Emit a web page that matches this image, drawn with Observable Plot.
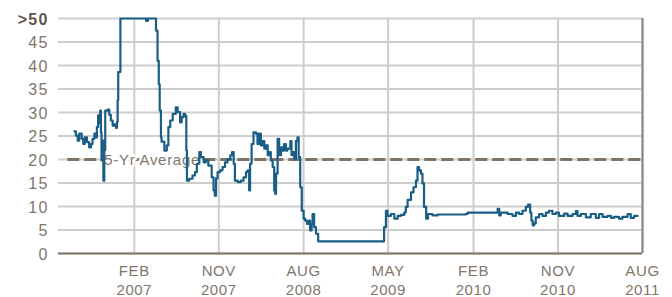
<!DOCTYPE html>
<html>
<head>
<meta charset="utf-8">
<script src="https://cdn.jsdelivr.net/npm/d3@7"></script>
<script src="https://cdn.jsdelivr.net/npm/@observablehq/plot@0.6"></script>
<style>
  html, body { margin: 0; padding: 0; background: #fff; }
  #chart { width: 672px; height: 297px; }
</style>
</head>
<body>
<div id="chart"></div>
<script>
// Series: dates and values (values above 50 shown capped at ">50")
const dates = [
  "2006-07-22","2006-07-27","2006-08-02","2006-08-07","2006-08-15","2006-08-20","2006-08-25","2006-09-01",
  "2006-09-08","2006-09-14","2006-09-19","2006-09-25","2006-09-30","2006-10-03","2006-10-07","2006-10-11",
  "2006-10-14","2006-10-16","2006-10-18","2006-10-22","2006-10-24","2006-10-27","2006-10-30","2006-11-07",
  "2006-11-12","2006-11-17","2006-11-23","2006-11-28","2006-12-04","2006-12-07","2006-12-09","2006-12-11",
  "2006-12-16","2006-12-18","2007-03-11","2007-03-17","2007-04-06","2007-04-12","2007-04-17","2007-04-21",
  "2007-04-24","2007-04-28","2007-04-30","2007-05-09","2007-05-17","2007-05-22","2007-05-28","2007-06-05",
  "2007-06-15","2007-06-21","2007-06-29","2007-07-04","2007-07-10","2007-07-15","2007-07-19","2007-07-21",
  "2007-07-28","2007-08-08","2007-08-16","2007-08-22","2007-08-30","2007-09-04","2007-09-13","2007-09-20",
  "2007-09-28","2007-10-04","2007-10-09","2007-10-15","2007-10-19","2007-10-23","2007-10-28","2007-11-05",
  "2007-11-13","2007-11-21","2007-11-29","2007-12-08","2007-12-14","2007-12-19","2007-12-23","2008-01-01",
  "2008-01-11","2008-01-20","2008-01-28","2008-02-02","2008-02-07","2008-02-10","2008-02-15","2008-02-21",
  "2008-02-29","2008-03-05","2008-03-10","2008-03-16","2008-03-21","2008-03-27","2008-04-01","2008-04-07",
  "2008-04-12","2008-04-17","2008-04-23","2008-04-28","2008-05-01","2008-05-04","2008-05-09","2008-05-14",
  "2008-05-20","2008-05-25","2008-05-30","2008-06-05","2008-06-10","2008-06-19","2008-06-23","2008-06-27",
  "2008-07-02","2008-07-07","2008-07-12","2008-07-16","2008-07-21","2008-07-26","2008-08-01","2008-08-06",
  "2008-08-12","2008-08-19","2008-08-22","2008-08-27","2008-08-30","2008-09-04","2008-09-10","2008-09-17",
  "2009-04-13","2009-04-18","2009-04-24","2009-04-29","2009-05-10","2009-05-21","2009-06-01","2009-06-11",
  "2009-06-22","2009-06-27","2009-07-03","2009-07-14","2009-07-22","2009-07-30","2009-08-04","2009-08-09",
  "2009-08-15","2009-08-20","2009-08-25","2009-09-01","2009-09-07","2009-09-21","2009-10-08","2010-01-07",
  "2010-01-13","2010-04-14","2010-04-20","2010-04-25","2010-04-30","2010-05-22","2010-06-07","2010-06-18",
  "2010-06-28","2010-07-09","2010-07-20","2010-07-27","2010-08-03","2010-08-07","2010-08-11","2010-08-16",
  "2010-08-21","2010-09-01","2010-09-12","2010-09-23","2010-10-03","2010-10-14","2010-10-25","2010-11-04",
  "2010-11-21","2010-12-02","2010-12-18","2010-12-29","2011-01-03","2011-01-14","2011-01-30","2011-02-15",
  "2011-03-03","2011-03-14","2011-03-25","2011-04-10","2011-04-21","2011-05-01","2011-05-17","2011-05-28",
  "2011-06-14","2011-06-24","2011-07-05","2011-07-16"
];
const values = [
  26.0,25.1,24.0,25.5,24.4,23.3,24.7,23.7,
  22.6,23.3,24.4,25.5,24.7,26.9,29.4,27.8,
  30.4,25.7,19.8,24.0,15.5,22.0,30.4,30.6,
  29.5,28.3,27.2,27.5,26.7,28.0,32.6,38.6,
  38.6,50,49.5,50,50,47.4,41.0,36.0,
  30.4,24.7,23.8,21.9,23.0,26.9,28.3,29.7,
  31.1,30.1,27.9,29.0,29.7,29.3,21.9,15.5,
  15.9,16.6,17.3,19.1,21.6,20.5,19.4,19.8,
  18.7,18.7,16.2,13.4,12.3,16.0,17.3,17.7,
  18.4,19.4,20.1,20.9,21.6,19.1,15.5,15.2,
  15.5,16.2,17.3,17.7,13.4,19.1,23.3,25.8,
  25.5,23.3,25.5,23.0,23.9,22.3,23.0,20.9,
  21.6,19.8,18.4,13.4,12.7,17.0,24.4,20.9,
  22.6,21.9,23.3,21.9,22.3,23.9,20.9,21.6,
  20.1,23.9,24.7,20.5,14.1,9.1,7.4,7.0,
  6.3,7.0,4.9,6.3,8.4,5.6,4.2,2.6,
  2.6,5.6,9.1,8.0,8.4,7.4,8.0,8.2,
  8.7,9.9,11.4,13.0,14.1,15.5,18.4,17.7,
  17.0,14.9,9.9,7.4,8.4,8.1,8.3,8.4,
  8.7,8.7,9.5,8.1,8.7,8.4,8.0,8.7,
  8.4,9.1,9.9,10.4,8.7,7.0,6.0,6.4,
  7.7,8.4,8.0,8.7,9.1,8.4,8.7,8.0,
  8.5,8.0,8.4,9.0,8.0,8.4,7.7,8.4,
  7.6,8.4,7.8,8.0,7.6,7.8,7.4,7.8,
  8.4,7.6,8.0,8.0
];

// Reference line
const averageValue = [20];
const averageSpan = ["2006-07-01", "2011-08-05"];
const averageLabel = "5-Yr Average";
const averageLabelDate = "2006-10-27";

// Axes
const xDomain = ["2006-06-01", "2011-08-01"];
const xTicks = ["2007-02-01","2007-11-01","2008-08-01","2009-05-01","2010-02-01","2010-11-01","2011-08-01"];
const xTickLabels = ["FEB\n2007","NOV\n2007","AUG\n2008","MAY\n2009","FEB\n2010","NOV\n2010","AUG\n2011"];
const yTicks = [0,5,10,15,20,25,30,35,40,45];
const yTopTick = [50];
const yTopLabel = ">50";

const parse = d3.utcParse("%Y-%m-%d");
const series = dates.map((d, i) => ({date: parse(d), value: values[i]}));
const xt = xTicks.map(parse);

const textColor = "#80766b";
const chart = Plot.plot({
  width: 672,
  height: 297,
  marginLeft: 58,
  marginRight: 30,
  marginTop: 18,
  marginBottom: 44,
  style: {fontFamily: "'Liberation Sans', Arial, sans-serif", background: "#fff"},
  x: {type: "utc", domain: xDomain.map(parse)},
  y: {domain: [0, 50]},
  marks: [
    Plot.gridY([...yTicks, ...yTopTick], {stroke: "#cdcdcd", strokeOpacity: 1, strokeWidth: 2}),
    Plot.gridX(xt, {stroke: "#cdcdcd", strokeOpacity: 1, strokeWidth: 2}),
    Plot.ruleX([xt[xt.length - 1]], {y1: 0, y2: 50, stroke: "#8c8279", strokeWidth: 2}),
    Plot.ruleY([0], {stroke: "#7e7469", strokeWidth: 2}),
    Plot.ruleY(averageValue, {x1: parse(averageSpan[0]), x2: parse(averageSpan[1]), stroke: "#7e7367", strokeWidth: 3, strokeDasharray: "12,5"}),
    Plot.text([averageLabel], {x: parse(averageLabelDate), y: averageValue[0], text: d => d, textAnchor: "start",
      fill: textColor, fontSize: 15, stroke: "white", strokeWidth: 5, dy: 1}),
    Plot.line(series, {x: "date", y: "value", stroke: "#1a5e86", strokeWidth: 2.2, curve: "step-after"}),
    Plot.axisX(xt, {tickSize: 0, tickPadding: 9, fontSize: 15, lineHeight: 1.25, fill: textColor,
      tickFormat: (d, i) => xTickLabels[i], label: null}),
    Plot.axisY(yTicks, {tickSize: 0, tickPadding: 10, fontSize: 16, fill: textColor, label: null, dy: 1}),
    Plot.axisY(yTopTick, {tickSize: 0, tickPadding: 10, fontSize: 16, fontWeight: "bold", fill: "#5e554c",
      tickFormat: () => yTopLabel, label: null, dy: 1})
  ]
});
d3.select(chart).selectAll('g[aria-label="text"] text').attr("letter-spacing", "0.7px");
d3.select(chart).selectAll('g[aria-label="y-axis tick label"] text').attr("letter-spacing", "1.2px");
d3.select(chart).selectAll('g[aria-label="x-axis tick label"] text').attr("letter-spacing", "0.6px");
document.getElementById("chart").appendChild(chart);
</script>
</body>
</html>
